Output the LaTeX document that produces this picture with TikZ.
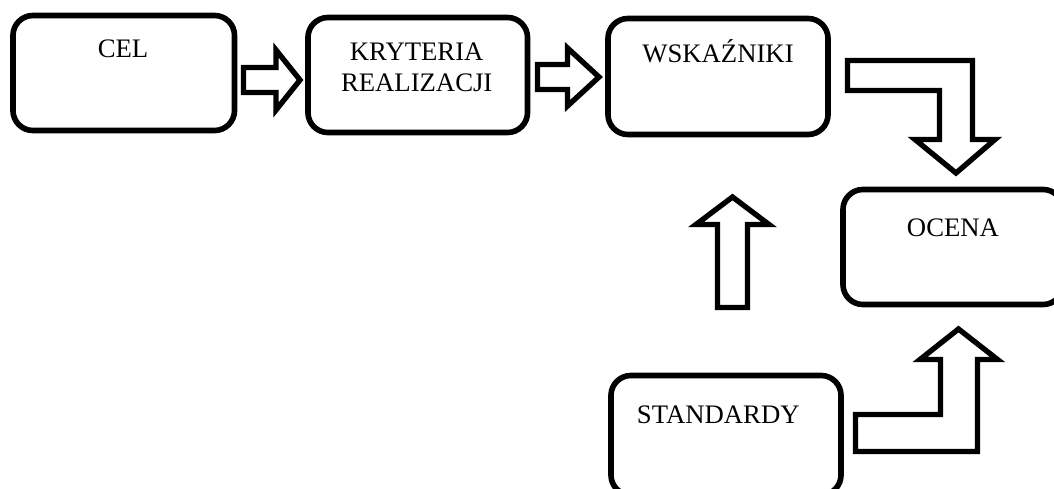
\documentclass[tikz,border=0pt]{standalone}
\usepackage{fontspec}
\setmainfont{Liberation Serif}
\begin{document}
\begin{tikzpicture}[x=0.025cm,y=-0.025cm,line join=miter,
	box/.style={draw,line width=4pt,rounded corners=0.5cm,inner sep=0pt,minimum height=2.875cm},
	lbl/.style={font=\fontsize{19}{22}\selectfont,inner sep=0pt,anchor=base},
	blok/.style={draw,line width=3.8pt,fill=white}]
	\useasboundingbox (0,0) rectangle (1054,488);
	\clip (0,0) rectangle (1054,488);
	% bloki
	\node[box,minimum width=5.5375cm] (cel) at (123.75,73) {};
	\node[box,minimum width=5.4875cm] (kryt) at (417.75,75) {};
	\node[box,minimum width=5.5cm,minimum height=2.9cm] (wsk) at (718,76.5) {};
	\node[box,minimum width=5.5cm] (oce) at (953,247) {};
	\node[box,minimum width=5.75cm,minimum height=2.9875cm] (sta) at (726,435.25) {};
	% napisy
	\node[lbl] (cel-t) at (123,57.3) {CEL};
	\node[lbl,anchor=center,align=center] (kryt-t) at (416.7,67) {KRYTERIA\\REALIZACJI};
	\node[lbl] (wsk-t) at (718,62.7) {WSKAŹNIKI};
	\node[lbl] (oce-t) at (953,236.7) {OCENA};
	\node[lbl] (sta-t) at (718.3,423.3) {STANDARDY};
	% strzalki
	\draw[blok] (243.5,67.5) -- (276,67.5) -- (276,50) -- (300,80) -- (276,110) -- (276,92.5) -- (243.5,92.5) -- cycle;
	\draw[blok] (537.5,64.5) -- (567.5,64.5) -- (567.5,48) -- (599,77) -- (567.5,106) -- (567.5,89.5) -- (537.5,89.5) -- cycle;
	\draw[blok] (847.5,60.5) -- (972.5,60.5) -- (972.5,139.5) -- (995,139.5) -- (956,173) -- (915,139.5) -- (939.5,139.5) -- (939.5,90.5) -- (847.5,90.5) -- cycle;
	\draw[blok] (717.5,307.5) -- (717.5,224.5) -- (696,224.5) -- (732.5,197) -- (769,224.5) -- (747.5,224.5) -- (747.5,307.5) -- cycle;
	\draw[blok] (855.5,414.5) -- (940.5,414.5) -- (940.5,359.5) -- (920,359.5) -- (958.5,329) -- (997.5,359.5) -- (977.5,359.5) -- (977.5,451.5) -- (855.5,451.5) -- cycle;
\end{tikzpicture}
\end{document}
